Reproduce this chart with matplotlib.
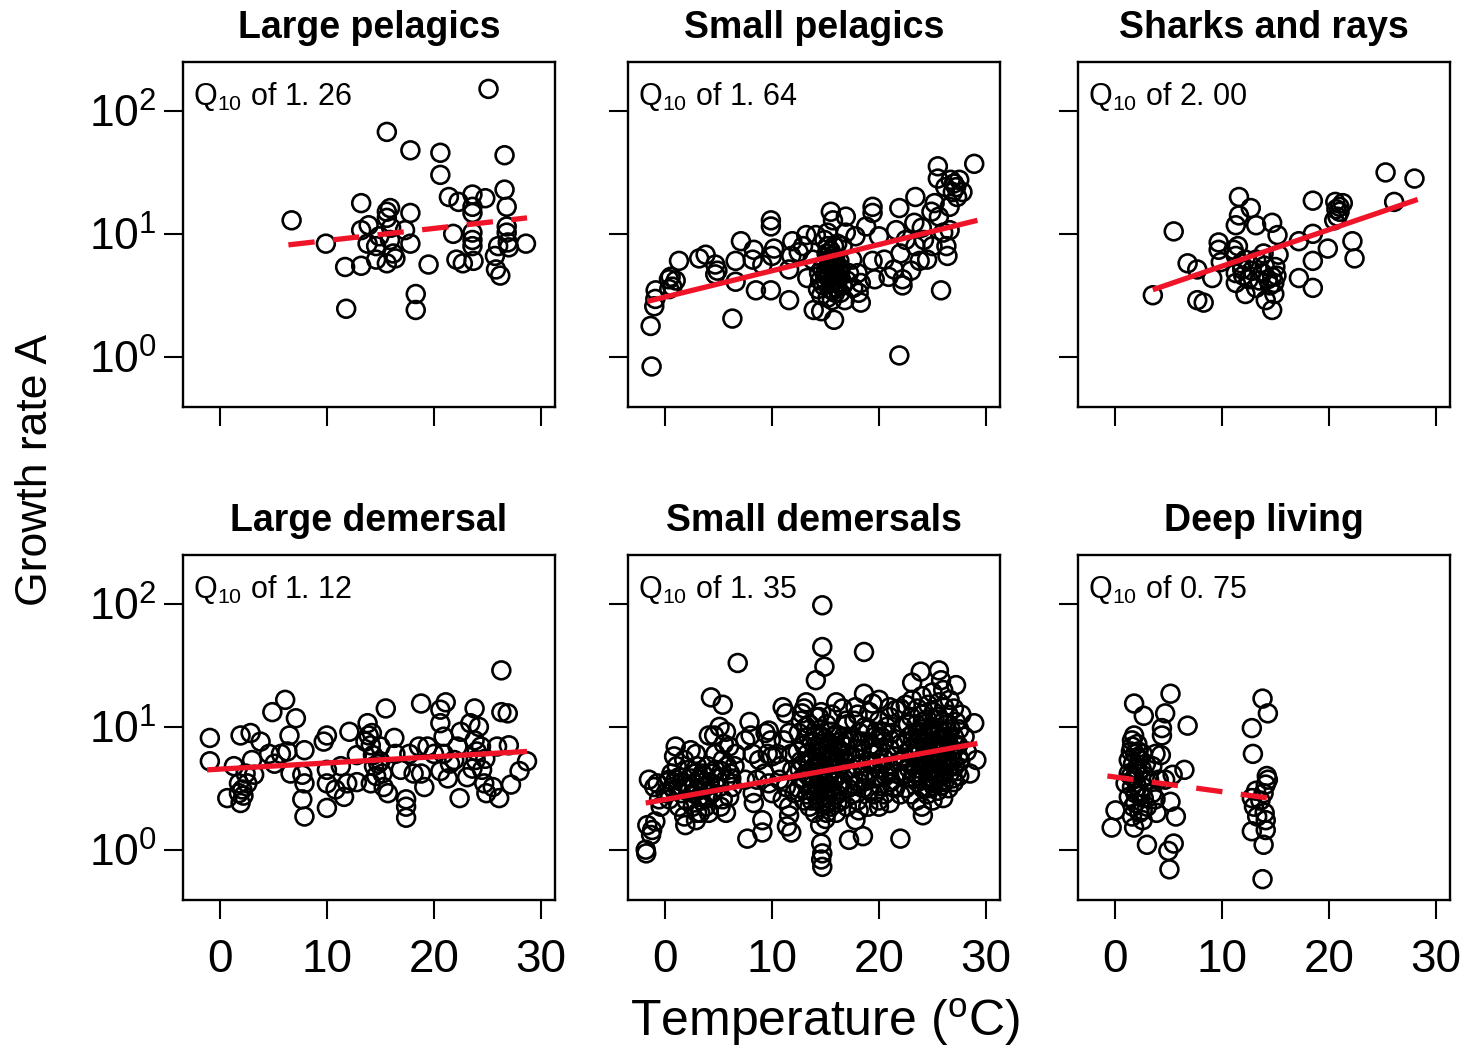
import matplotlib
matplotlib.use("Agg")
import matplotlib.pyplot as plt
import numpy as np

plt.rcParams['font.family'] = ['Liberation Sans', 'DejaVu Sans']
plt.rcParams['mathtext.fontset'] = 'custom'
plt.rcParams['mathtext.rm'] = 'Liberation Sans'
plt.rcParams['mathtext.it'] = 'Liberation Sans:italic'
plt.rcParams['mathtext.bf'] = 'Liberation Sans:bold'

# panel titles and Q10 estimates
titles = ["Large pelagics", "Small pelagics", "Sharks and rays",
          "Large demersal", "Small demersals", "Deep living"]
q10_labels = ["1. 26", "1. 64", "2. 00", "1. 12", "1. 35", "0. 75"]
significant = [False, True, True, True, True, False]

# fitted lines: (temp start, temp end), (log10 A start, log10 A end)
fit_temp = [(6.4, 28.7), (-1.65, 29.2), (3.55, 28.3), (-1.2, 28.7), (-1.8, 29.2), (-0.7, 14.4)]
fit_logA = [(0.91, 1.13), (0.45, 1.11), (0.545, 1.28), (0.65, 0.80), (0.38, 0.865), (0.60, 0.42)]

# observations: (temperature degC, log10 growth rate A)
large_pelagics = [
    (25.1, 2.18), (15.6, 1.83), (17.8, 1.68), (20.6, 1.66), (26.6, 1.64), (20.6, 1.48),
    (26.6, 1.36), (21.4, 1.30), (22.3, 1.26), (23.6, 1.32), (24.8, 1.29), (23.6, 1.22),
    (23.6, 1.17), (26.8, 1.22), (13.2, 1.25), (6.7, 1.11), (15.6, 1.18), (15.6, 1.13),
    (15.9, 1.21), (17.8, 1.17), (13.9, 1.07), (13.2, 1.03), (17.3, 1.03), (9.9, 0.92),
    (13.8, 0.92), (14.6, 0.90), (15.9, 0.95), (17.8, 0.92), (21.8, 1.00), (23.6, 1.01),
    (23.6, 0.95), (23.6, 0.90), (26.8, 1.06), (26.8, 1.01), (26.9, 0.93), (26.0, 0.90),
    (27.0, 0.89), (28.6, 0.92), (11.7, 0.73), (13.2, 0.74), (14.6, 0.79), (15.6, 0.76),
    (16.4, 0.80), (16.2, 0.84), (19.5, 0.75), (22.1, 0.79), (22.7, 0.76), (23.7, 0.78),
    (25.7, 0.82), (25.8, 0.71), (26.2, 0.66), (11.8, 0.39), (18.3, 0.51), (18.3, 0.38),
    (14.9, 0.98), (16.0, 1.05),
]

small_pelagics = [
    (-1.25, -0.08), (-1.34, 0.25), (-1.0, 0.41), (-0.9, 0.47), (-0.87, 0.54), (0.37, 0.63),
    (0.69, 0.57), (0.53, 0.65), (1.31, 0.78), (3.2, 0.80), (3.8, 0.83), (4.7, 0.75),
    (4.7, 0.67), (6.3, 0.31), (6.6, 0.78), (6.6, 0.61), (7.1, 0.94), (8.3, 0.87),
    (8.2, 0.79), (8.5, 0.54), (9.1, 0.75), (9.9, 0.54), (9.9, 1.11), (9.9, 1.06),
    (10.0, 0.82), (10.2, 0.88), (11.6, 0.46), (11.6, 0.71), (11.9, 0.94), (11.8, 0.82),
    (13.2, 0.99), (13.3, 0.64), (14.1, 0.99), (13.9, 0.38), (14.6, 0.37), (13.8, 0.79),
    (14.4, 0.68), (15.5, 1.18), (15.7, 1.11), (15.8, 0.30), (15.2, 1.01), (15.2, 0.90),
    (15.3, 0.79), (15.0, 0.68), (15.7, 0.54), (16.3, 0.71), (16.6, 0.90), (16.9, 1.14),
    (16.9, 1.01), (17.2, 0.68), (17.5, 0.79), (17.8, 0.98), (18.1, 0.52), (18.3, 0.60),
    (18.3, 0.44), (18.8, 1.06), (19.4, 1.22), (19.4, 1.17), (19.4, 0.78), (19.6, 0.63),
    (20.0, 0.98), (20.5, 0.79), (20.9, 0.65), (21.4, 0.71), (21.9, 1.21), (21.9, 0.01),
    (21.6, 1.03), (22.0, 0.84), (22.2, 0.63), (22.2, 0.58), (22.5, 0.95), (23.3, 1.09),
    (23.4, 1.30), (23.4, 0.90), (23.8, 0.78), (24.2, 0.95), (24.5, 0.79), (24.9, 1.18),
    (25.2, 1.25), (25.5, 1.55), (25.5, 1.45), (25.6, 1.14), (25.8, 0.54), (26.0, 1.01),
    (26.3, 0.90), (26.4, 0.82), (26.6, 1.22), (26.7, 1.44), (27.0, 1.41), (27.2, 1.38),
    (27.5, 1.44), (27.8, 1.34), (26.6, 1.03), (28.9, 1.57), (1.0, 0.62), (0.4, 0.55),
    (4.9, 0.70), (12.5, 0.85), (12.9, 0.90), (14.3, 0.55),
    (14.6, 0.50), (14.8, 0.58), (15.0, 0.62), (15.2, 0.48), (15.4, 0.66), (15.6, 0.60),
    (15.8, 0.72), (16.0, 0.56), (16.2, 0.64), (16.4, 0.52), (14.7, 0.72), (15.1, 0.84),
    (15.5, 0.86), (15.9, 0.80), (16.1, 0.92), (14.9, 0.95), (15.3, 0.70), (15.7, 0.76),
    (16.3, 0.78), (16.6, 0.58), (14.5, 0.62), (15.9, 0.66), (17.0, 0.62), (17.6, 0.56),
    (18.0, 0.68), (16.8, 0.46), (23.0, 0.70), (24.0, 1.05), (25.0, 0.90), (26.9, 1.34),
    (27.3, 1.30), (26.2, 1.38),
    (15.4, 0.55), (15.6, 0.70), (15.8, 0.62), (16.0, 0.68), (15.5, 0.78), (15.7, 0.82),
    (15.9, 0.52), (16.2, 0.70), (15.3, 0.64), (16.1, 0.60), (15.6, 0.46), (15.8, 0.90),
    (16.4, 0.72), (15.4, 0.74),
]

sharks_rays = [
    (3.55, 0.50), (5.5, 1.02), (6.8, 0.76), (7.7, 0.71), (7.7, 0.46), (8.3, 0.44),
    (9.1, 0.64), (9.7, 0.93), (9.7, 0.87), (9.9, 0.77), (11.1, 0.87), (11.3, 0.82),
    (11.3, 1.07), (11.6, 1.15), (11.6, 1.30), (12.7, 1.21), (13.2, 1.07), (11.3, 0.68),
    (11.3, 0.60), (11.9, 0.71), (12.2, 0.51), (12.5, 0.63), (13.2, 0.56), (13.2, 0.79),
    (13.8, 0.68), (13.9, 0.84), (14.1, 0.46), (14.3, 0.63), (14.7, 1.09), (14.7, 0.38),
    (14.9, 0.51), (15.0, 0.73), (15.2, 0.99), (15.3, 0.83), (14.7, 0.65), (12.2, 0.79),
    (17.2, 0.94), (17.2, 0.64), (18.5, 1.27), (18.5, 1.00), (18.5, 0.78), (18.5, 0.56),
    (19.9, 0.88), (20.6, 1.26), (21.0, 1.22), (20.8, 1.14), (21.3, 1.25), (20.5, 1.11),
    (22.2, 0.94), (22.4, 0.80), (25.3, 1.50), (26.1, 1.26), (28.0, 1.45), (11.8, 0.76),
    (12.0, 0.66), (14.5, 0.58), (14.9, 0.60), (13.5, 0.62), (12.8, 0.70), (15.1, 0.66),
    (11.5, 0.90), (14.0, 0.74), (21.0, 1.18), (20.7, 1.20),
]

large_demersal = [
    (-0.94, 0.91), (-0.94, 0.72), (0.69, 0.42), (1.31, 0.68), (1.93, 0.93), (1.78, 0.54),
    (2.1, 0.49), (1.93, 0.38), (1.78, 0.46), (2.56, 0.54), (2.87, 0.95), (3.0, 0.73),
    (3.2, 0.61), (3.8, 0.88), (4.6, 0.78), (4.9, 1.12), (5.1, 0.70), (5.7, 0.78),
    (6.1, 1.22), (6.3, 0.80), (6.5, 0.93), (7.1, 1.07), (6.6, 0.62), (7.9, 0.81),
    (7.7, 0.61), (7.9, 0.54), (7.7, 0.41), (7.9, 0.27), (9.7, 0.88), (10.0, 0.93),
    (10.0, 0.65), (10.0, 0.34), (10.0, 0.54), (10.8, 0.49), (11.3, 0.68), (11.6, 0.43),
    (11.9, 0.54), (12.1, 0.96), (12.8, 0.55), (12.8, 0.77), (13.8, 1.03), (13.9, 0.93),
    (14.1, 0.85), (14.3, 0.77), (14.4, 0.68), (14.1, 0.54), (15.0, 0.72), (15.2, 0.62),
    (15.3, 0.51), (15.5, 1.15), (15.7, 0.46), (16.3, 0.91), (16.4, 0.78), (15.0, 0.84),
    (16.9, 0.65), (17.4, 0.41), (17.4, 0.35), (17.4, 0.26), (17.7, 0.78), (18.1, 0.62),
    (18.6, 0.84), (18.8, 1.19), (18.8, 0.62), (19.1, 0.51), (19.4, 0.84), (20.0, 0.78),
    (20.6, 1.14), (20.6, 1.03), (21.1, 1.20), (20.9, 0.92), (20.9, 0.78), (20.6, 0.64),
    (21.3, 0.58), (21.9, 0.73), (22.2, 0.84), (22.4, 0.42), (22.5, 0.96), (23.1, 0.59),
    (23.4, 1.03), (23.8, 1.15), (23.8, 0.89), (23.9, 0.73), (24.2, 1.00), (24.4, 0.84),
    (24.5, 0.65), (24.7, 0.54), (24.9, 0.46), (25.5, 0.51), (25.9, 0.84), (26.1, 0.42),
    (26.3, 1.12), (26.3, 1.46), (26.9, 1.11), (27.0, 0.85), (27.2, 0.53), (28.0, 0.64),
    (28.7, 0.72), (2.4, 0.62), (2.2, 0.44), (14.6, 0.60), (14.8, 0.70), (21.5, 0.70),
    (23.6, 0.66), (24.0, 0.80), (24.8, 0.74), (14.2, 0.95), (13.6, 0.88),
]

small_demersals = [
    (-1.8, 0.00), (-1.75, -0.03), (-1.65, 0.20), (-1.2, 0.16), (-0.9, 0.23), (-1.3, 0.12),
    (-1.5, 0.57), (-1.0, 0.51), (-0.7, 0.54), (-0.55, 0.41), (-0.4, 0.35),
    (0.06, 0.46), (0.4, 0.41), (0.7, 0.51), (0.85, 0.76), (1.0, 0.84), (1.0, 0.57),
    (1.3, 0.35), (1.5, 0.46), (1.8, 0.27), (1.9, 0.20), (2.1, 0.51), (2.2, 0.65),
    (2.4, 0.81), (2.6, 0.35), (2.7, 0.54), (2.9, 0.24), (3.0, 0.68), (3.2, 0.43),
    (3.3, 0.30), (3.5, 0.62), (3.6, 0.51), (3.8, 0.35), (4.0, 0.68), (4.1, 0.93),
    (4.3, 1.24), (1.8, 0.73), (1.3, 0.59), (0.4, 0.57), (2.6, 0.46), (3.2, 0.57),
    (3.8, 0.51), (4.1, 0.30),
    (4.6, 0.93), (5.1, 1.00), (5.4, 1.18), (5.7, 0.96), (4.7, 0.78), (5.4, 0.73),
    (6.0, 0.84), (5.7, 0.57), (5.1, 0.51), (6.0, 0.43), (5.2, 0.35), (5.7, 0.30),
    (6.3, 0.51), (6.5, 0.68), (6.6, 0.78), (6.8, 1.52), (4.7, 0.65), (4.4, 0.46),
    (5.5, 0.86), (6.1, 0.62), (5.4, 0.41),
    (7.5, 0.89), (7.9, 1.04), (8.0, 0.93), (8.2, 0.78), (7.5, 0.57), (8.2, 0.46),
    (8.3, 0.38), (7.7, 0.09), (9.1, 0.14), (9.1, 0.24), (9.4, 0.95), (9.7, 0.97),
    (9.9, 0.89), (9.6, 0.78), (8.8, 0.73), (9.3, 0.62), (9.7, 0.54), (10.0, 0.46),
    (8.6, 0.57), (10.0, 0.76),
    (11.0, 1.16), (11.3, 1.11), (11.6, 0.95), (11.1, 0.89), (11.8, 0.78), (10.8, 0.68),
    (11.3, 0.51), (11.9, 0.65), (10.7, 0.57), (11.6, 0.35), (11.4, 0.19), (11.8, 0.14),
    (11.6, 0.28), (12.1, 0.46), (10.5, 0.78), (11.0, 0.41),
    (14.7, 1.99), (14.7, 1.65), (14.9, 1.49), (14.1, 1.38), (14.6, 0.05), (14.7, -0.03),
    (14.7, -0.14), (14.6, -0.08), (13.2, 1.20), (12.8, 1.11), (14.4, 1.08), (16.0, 1.20),
    (16.6, 1.15), (16.9, 1.05),
    (12.5, 0.50), (12.6, 0.65), (12.4, 0.80), (12.5, 0.95), (12.7, 1.05),
    (13.0, 0.40), (13.1, 0.55), (12.9, 0.70), (13.0, 0.85), (13.2, 1.00), (13.0, 1.15),
    (13.5, 0.35), (13.6, 0.48), (13.4, 0.60), (13.5, 0.72), (13.7, 0.88), (13.5, 1.02),
    (14.0, 0.30), (14.1, 0.45), (13.9, 0.58), (14.0, 0.68), (14.2, 0.80), (14.0, 0.92),
    (14.1, 1.08), (14.5, 0.20), (14.6, 0.38), (14.4, 0.52), (14.5, 0.64), (14.6, 0.75),
    (14.4, 0.86), (14.5, 0.98), (14.6, 1.12), (15.0, 0.25), (15.1, 0.42), (14.9, 0.55),
    (15.0, 0.66), (15.2, 0.78), (15.0, 0.90), (15.1, 1.02), (15.5, 0.35), (15.6, 0.50),
    (15.4, 0.62), (15.5, 0.74), (15.7, 0.85), (15.5, 0.96), (15.6, 1.10), (16.0, 0.30),
    (16.1, 0.45), (15.9, 0.58), (16.0, 0.70), (16.2, 0.82), (16.0, 0.94), (16.5, 0.40),
    (16.6, 0.55), (16.4, 0.68), (16.5, 0.80), (16.7, 0.92), (17.0, 0.35), (17.1, 0.50),
    (16.9, 0.65), (17.0, 0.78), (17.2, 0.90), (17.0, 1.02),
    (13.3, 0.45), (13.8, 0.52), (14.3, 0.62), (14.8, 0.48), (15.3, 0.58), (15.8, 0.66),
    (16.3, 0.52), (14.2, 0.70), (15.2, 0.68), (15.8, 0.44), (14.8, 0.82), (13.8, 0.76),
    (12.8, 0.58), (12.7, 0.72), (13.2, 0.62), (13.3, 0.78), (13.4, 0.92), (13.7, 0.40),
    (13.9, 0.66), (14.0, 0.84), (14.3, 0.40), (14.4, 0.58), (14.5, 0.70), (14.7, 0.92),
    (14.9, 0.36), (15.0, 0.50), (15.2, 0.60), (15.3, 0.72), (15.4, 0.86), (15.6, 0.40),
    (15.7, 0.55), (15.8, 0.92), (16.1, 0.38), (16.2, 0.62), (16.3, 0.74), (16.4, 0.88),
    (16.6, 0.48), (16.8, 0.72), (16.9, 0.84), (14.2, 0.50), (15.9, 0.76), (15.1, 0.30),
    (18.6, 1.61), (18.6, 1.27), (17.8, 1.16), (19.4, 1.19), (20.0, 1.22), (21.0, 1.16),
    (21.6, 1.14), (17.2, 0.08), (18.5, 0.11), (22.0, 0.09), (17.8, 0.24), (18.1, 0.32),
    (20.0, 0.35), (21.3, 0.51), (20.6, 0.73),
    (17.5, 0.45), (17.6, 0.60), (17.4, 0.75), (17.5, 0.90), (17.7, 1.05),
    (18.0, 0.40), (18.1, 0.55), (17.9, 0.68), (18.0, 0.82), (18.2, 0.95), (18.0, 1.10),
    (18.5, 0.50), (18.6, 0.62), (18.4, 0.78), (18.5, 0.88), (18.7, 1.00),
    (19.0, 0.35), (19.1, 0.48), (18.9, 0.60), (19.0, 0.72), (19.2, 0.85), (19.0, 0.98),
    (19.1, 1.12), (19.5, 0.45), (19.6, 0.58), (19.4, 0.70), (19.5, 0.84), (19.7, 0.96),
    (20.0, 0.40), (20.1, 0.52), (19.9, 0.66), (20.0, 0.80), (20.2, 0.92), (20.0, 1.05),
    (20.5, 0.45), (20.6, 0.60), (20.4, 0.75), (20.5, 0.88), (20.7, 1.00),
    (21.0, 0.38), (21.1, 0.55), (20.9, 0.68), (21.0, 0.82), (21.2, 0.95), (21.0, 1.08),
    (21.5, 0.50), (21.6, 0.62), (21.4, 0.76), (21.5, 0.90),
    (22.0, 0.45), (22.1, 0.60), (21.9, 0.72), (22.0, 0.86), (22.2, 1.00), (22.0, 1.15),
    (17.8, 0.52), (18.3, 0.70), (18.8, 0.56), (19.3, 0.78), (19.8, 0.60), (20.3, 0.70),
    (20.8, 0.62), (18.2, 0.88), (19.6, 0.92), (20.4, 0.96),
    (23.1, 1.36), (23.9, 1.45), (25.6, 1.46), (25.8, 1.38), (27.2, 1.34), (24.1, 0.28),
    (22.5, 0.50), (22.6, 0.62), (22.4, 0.75), (22.5, 0.88), (22.7, 1.02), (22.5, 1.18),
    (23.0, 0.45), (23.1, 0.58), (22.9, 0.70), (23.0, 0.82), (23.2, 0.95), (23.0, 1.08),
    (23.1, 1.22), (23.5, 0.40), (23.6, 0.55), (23.4, 0.66), (23.5, 0.78), (23.7, 0.90),
    (23.5, 1.02), (23.6, 1.15), (24.0, 0.35), (24.1, 0.50), (23.9, 0.62), (24.0, 0.74),
    (24.2, 0.86), (24.0, 0.98), (24.1, 1.10), (24.0, 1.25), (24.5, 0.45), (24.6, 0.58),
    (24.4, 0.70), (24.5, 0.82), (24.7, 0.94), (24.5, 1.06), (24.6, 1.18), (25.0, 0.40),
    (25.1, 0.52), (24.9, 0.64), (25.0, 0.76), (25.2, 0.88), (25.0, 1.00), (25.1, 1.12),
    (25.0, 1.28), (25.5, 0.48), (25.6, 0.60), (25.4, 0.72), (25.5, 0.84), (25.7, 0.96),
    (25.5, 1.08), (25.6, 1.20), (26.0, 0.42), (26.1, 0.55), (25.9, 0.68), (26.0, 0.80),
    (26.2, 0.92), (26.0, 1.04), (26.1, 1.16), (26.0, 1.30), (26.5, 0.50), (26.6, 0.62),
    (26.4, 0.74), (26.5, 0.86), (26.7, 0.98), (26.5, 1.10), (26.6, 1.22), (27.0, 0.55),
    (27.1, 0.68), (26.9, 0.80), (27.0, 0.92), (27.2, 1.04), (27.0, 1.15), (27.5, 0.60),
    (27.6, 0.72), (27.4, 0.85), (27.5, 0.98), (27.7, 1.10),
    (23.3, 0.62), (23.8, 0.70), (24.3, 0.78), (24.8, 0.66), (25.3, 0.74), (25.8, 0.82),
    (26.3, 0.70), (24.3, 0.92), (25.3, 0.94), (26.3, 0.90), (24.8, 0.56), (25.8, 0.60),
    (22.8, 0.66), (23.2, 0.76), (23.4, 0.86), (23.7, 0.60), (23.9, 0.80), (24.2, 0.68),
    (24.4, 0.88), (24.6, 0.50), (24.7, 0.76), (24.9, 0.98), (25.1, 0.58), (25.3, 0.66),
    (25.4, 0.80), (25.6, 0.90), (25.8, 0.52), (25.9, 0.74), (26.1, 0.62), (26.2, 0.84),
    (26.4, 0.96), (26.6, 0.68), (26.8, 0.76), (26.9, 0.58), (27.1, 0.86), (27.3, 0.64),
    (27.4, 0.76), (24.1, 1.04), (25.2, 1.06), (26.3, 1.02), (23.6, 0.96), (22.8, 0.92),
    (0.2, 0.55), (0.6, 0.62), (1.1, 0.68), (1.6, 0.55), (2.0, 0.40), (2.4, 0.58),
    (2.8, 0.62), (3.1, 0.50), (3.4, 0.40), (3.7, 0.60), (4.2, 0.55), (4.5, 0.62),
    (4.9, 0.58), (5.3, 0.64), (5.8, 0.68), (6.2, 0.58), (4.0, 0.42), (3.0, 0.30),
    (1.2, 0.50), (2.9, 0.78),
    (28.9, 1.03), (29.1, 0.73), (28.2, 0.80), (28.0, 0.92), (28.5, 0.62),
]

deep_living = [
    (1.8, 1.19), (2.7, 1.09), (5.2, 1.27), (4.7, 1.11), (4.4, 0.99), (4.4, 0.93),
    (6.8, 1.01), (6.5, 0.65), (1.8, 0.93), (1.6, 0.89), (1.6, 0.84), (1.9, 0.78),
    (1.3, 0.73), (2.6, 0.78), (2.9, 0.70), (3.8, 0.78), (4.3, 0.77), (3.5, 0.68),
    (2.2, 0.62), (1.0, 0.54), (1.6, 0.51), (2.6, 0.51), (3.2, 0.57), (3.5, 0.46),
    (1.3, 0.43), (1.9, 0.38), (2.6, 0.32), (1.6, 0.27), (2.6, 0.24), (3.0, 0.35),
    (3.9, 0.30), (0.06, 0.32), (-0.3, 0.18), (1.8, 0.18), (3.0, 0.04), (5.2, 0.39),
    (5.7, 0.27), (5.5, 0.05), (5.0, -0.01), (5.1, -0.16), (4.7, 0.57), (5.4, 0.61),
    (4.1, 0.57), (3.8, 0.41), (1.3, 0.62), (2.1, 0.51), (1.7, 0.70), (2.3, 0.74),
    (2.0, 0.66), (2.4, 0.44), (1.5, 0.80), (2.1, 0.86), (1.8, 0.58), (2.8, 0.60),
    (1.5, 0.60), (2.2, 0.80), (1.9, 0.46), (2.5, 0.66), (1.7, 0.35), (2.3, 0.30),
    (2.7, 0.42),
    (13.8, 1.23), (14.3, 1.11), (12.8, 0.99), (12.9, 0.78), (14.3, 0.57), (14.1, 0.53),
    (12.8, 0.42), (13.9, 0.46), (13.0, 0.35), (13.3, 0.27), (12.8, 0.15), (14.1, 0.24),
    (14.1, 0.16), (13.9, 0.04), (13.8, -0.24), (14.2, 0.60), (13.6, 0.40), (14.0, 0.30),
    (13.2, 0.48),
]

panels = [large_pelagics, small_pelagics, sharks_rays,
          large_demersal, small_demersals, deep_living]

fig = plt.figure(figsize=(14.64, 10.49), dpi=100)
lefts = [0.125, 0.429, 0.7363]
bottoms = [0.612, 0.142]
w, h = 0.254, 0.329

for i in range(6):
    row, col = divmod(i, 3)
    ax = fig.add_axes([lefts[col], bottoms[row], w, h])
    temp = np.array([p[0] for p in panels[i]])
    logA = np.array([p[1] for p in panels[i]])
    ax.scatter(temp, 10 ** logA, s=165, facecolors='none', edgecolors='black',
               linewidths=1.9, zorder=2)

    ls = '-' if significant[i] else (0, (5, 3.5))
    ax.plot(fit_temp[i], 10 ** np.array(fit_logA[i]), color='#f01428', lw=3.8,
            linestyle=ls, zorder=3, solid_capstyle='butt', dash_capstyle='butt')

    ax.set_yscale('log')
    ax.set_xlim(-3.45, 31.3)
    ax.set_ylim(10 ** -0.41, 10 ** 2.40)
    ax.set_xticks([0, 10, 20, 30])
    ax.set_yticks([1, 10, 100])
    ax.yaxis.set_minor_locator(matplotlib.ticker.NullLocator())
    ax.tick_params(direction='out', length=14, width=1.5)
    ax.tick_params(axis='x', pad=13, labelsize=33)
    ax.tick_params(axis='y', pad=5, labelsize=32)
    for sp in ax.spines.values():
        sp.set_linewidth(1.7)

    if col == 0:
        ax.set_yticklabels([r'$10^0$', r'$10^1$', r'$10^2$'])
    else:
        ax.set_yticklabels([])
    if row == 1:
        ax.set_xticklabels(['0', '10', '20', '30'])
    else:
        ax.set_xticklabels([])

    ax.set_title(titles[i], fontsize=27, fontweight='bold', pad=17)
    ax.text(0.027, 0.875, r'Q$_{10}$ of ' + q10_labels[i], transform=ax.transAxes,
            fontsize=22, va='baseline', ha='left')

fig.text(0.024, 0.552, 'Growth rate A', rotation=90, fontsize=32,
         ha='center', va='center')
fig.text(0.5636, 0.026, r'Temperature ($^{\rm o}$C)', fontsize=36,
         ha='center', va='center')

fig.savefig('out.png', dpi=100)
